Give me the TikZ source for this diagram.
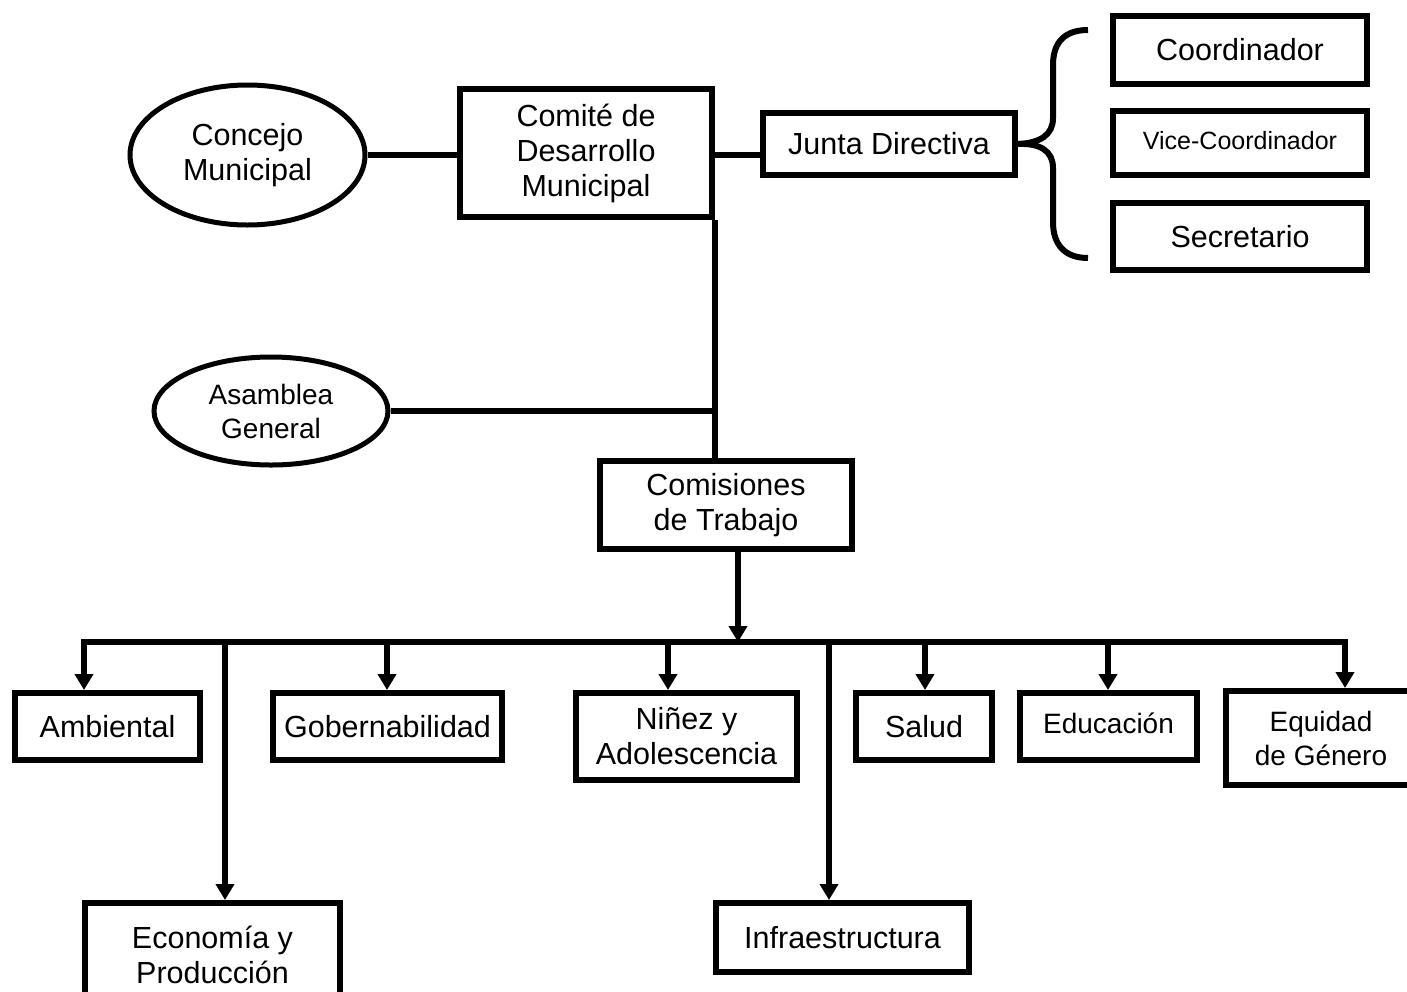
\documentclass[tikz,border=0pt]{standalone}
\usepackage{fontspec}
\setmainfont{Liberation Sans}
\usetikzlibrary{shapes.geometric,arrows.meta}
\begin{document}
\begin{tikzpicture}[x=0.5pt, y=-0.5pt,
  caja/.style={draw, line width=3pt, rectangle, inner sep=0pt, align=center, font=\fontsize{15.25}{17.5}\selectfont},
  ovalo/.style={draw, line width=2.5pt, ellipse, inner sep=0pt, align=center, font=\fontsize{15.25}{17.5}\selectfont},
  linea/.style={line width=3pt},
  flecha/.style={line width=3pt, -{Triangle[length=8pt, width=9pt]}}]
\useasboundingbox (0,0) rectangle (1407,991);
\clip (0,0) rectangle (1407,991);
% top part
\node[ovalo, minimum width=117.5pt, minimum height=70pt] (concejo) at (247.5,155) {Concejo\\Municipal};
\node[caja, minimum width=126pt, minimum height=64pt] (comite) at (586,153) {Comité de\\Desarrollo\\Municipal};
\node[caja, minimum width=126pt, minimum height=31pt] (junta) at (889,144) {Junta Directiva};
\node[caja, minimum width=127pt, minimum height=34pt] (coord) at (1240,50) {Coordinador};
\node[caja, minimum width=127pt, minimum height=32pt, font=\fontsize{12.5}{15}\selectfont] (vice) at (1240,143) {\raisebox{3pt}{Vice-Coordinador}};
\node[caja, minimum width=127pt, minimum height=33.5pt] (secre) at (1240,236.5) {Secretario};
\node[ovalo, minimum width=117pt, minimum height=54pt, font=\fontsize{14}{17}\selectfont] (asamblea) at (271,411) {Asamblea\\General};
\node[caja, minimum width=126pt, minimum height=44pt] (comisiones) at (726,505) {Comisiones\\de Trabajo};
% commissions
\node[caja, minimum width=92.5pt, minimum height=33.5pt] (ambiental) at (107.5,726.5) {Ambiental};
\node[caja, minimum width=127.5pt, minimum height=52pt] (economia) at (212.5,955) {Economía y\\Producción};
\node[caja, minimum width=114.5pt, minimum height=33.5pt] (gober) at (387.5,726.5) {Gobernabilidad};
\node[caja, minimum width=110.5pt, minimum height=43.5pt] (ninez) at (686.5,736.5) {Niñez y\\Adolescencia};
\node[caja, minimum width=126.5pt, minimum height=34.5pt] (infra) at (842.5,937.5) {Infraestructura};
\node[caja, minimum width=68pt, minimum height=33.5pt] (salud) at (924,726.5) {Salud};
\node[caja, minimum width=88.5pt, minimum height=33.5pt, font=\fontsize{14}{17}\selectfont] (educ) at (1108.5,726.5) {\raisebox{3pt}{Educación}};
\node[caja, minimum width=95pt, minimum height=47pt, font=\fontsize{14}{17}\selectfont] (equidad) at (1321,738) {Equidad\\de Género};
% connectors
\draw[linea] (concejo.east) -- (concejo.east -| comite.west);
\draw[linea] (concejo.east -| comite.east) -- (concejo.east -| junta.west);
\draw[linea] (comite.south east) -- (comite.south east |- comisiones.north);
\draw[linea] (asamblea.east) -- (asamblea.east -| comite.south east);
\draw[linea] (junta.east) .. controls (1040,143) and (1053,135) .. (1053,118) -- (1053,65) .. controls (1053,42) and (1065,30) .. (1088,30);
\draw[linea] (junta.east) .. controls (1040,143) and (1053,151) .. (1053,168) -- (1053,222) .. controls (1053,245) and (1065,258) .. (1088,258);
\coordinate (bus) at (738,642);
\draw[flecha] (bus |- comisiones.south) -- (bus);
\draw[linea, line cap=rect] (84,642) -- (1345,642);
\draw[flecha] (84,642) -- (84,642 |- ambiental.north);
\draw[flecha] (225,642) -- (225,642 |- economia.north);
\draw[flecha] (387,642) -- (387,642 |- gober.north);
\draw[flecha] (668,642) -- (668,642 |- ninez.north);
\draw[flecha] (829,642) -- (829,642 |- infra.north);
\draw[flecha] (925,642) -- (925,642 |- salud.north);
\draw[flecha] (1108,642) -- (1108,642 |- educ.north);
\draw[flecha] (1345,642) -- (1345,642 |- equidad.north);
\end{tikzpicture}
\end{document}
